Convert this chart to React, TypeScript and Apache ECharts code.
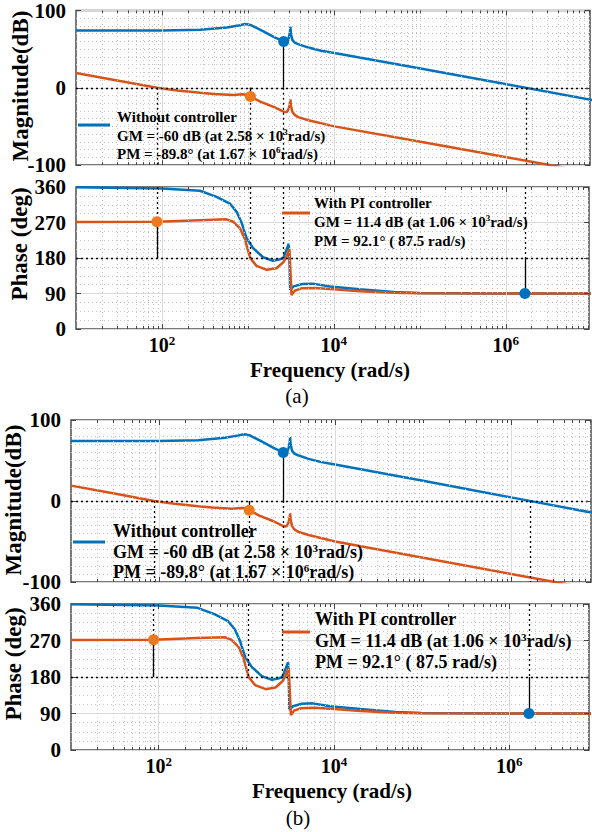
import React, { useEffect, useRef } from "react";
import * as echarts from "echarts";

const FONT = '"Liberation Serif", "Times New Roman", Times, serif';
const BLUE = "#0072BD";
const ORANGE = "#D95319";
const ORANGE_DOT = "#EC7A1C";

// ---------- data ----------
const freqMagBlue = [10, 100, 277, 565, 800, 920, 1000, 1100, 1500, 2000, 2580, 2800, 2950, 3050, 3090, 3130, 3250, 3450, 3800, 5000, 7000, 1e4, 1e5, 1e6, 1e7];
const magBlue = [74, 74, 75, 78, 81, 82.5, 82, 80.5, 73, 65.5, 60, 60.5, 64, 72, 79, 70, 62, 58.5, 56.5, 52, 48, 45, 25, 4.5, -16];

const freqMagOrange = [10, 30, 87.5, 150, 277, 400, 673, 850, 950, 1060, 1380, 2000, 2580, 2800, 2950, 3050, 3090, 3130, 3250, 3450, 3800, 5000, 1e4, 1e5, 1e6, 1e7];
const magOrange = [19, 9.5, 0, -3.5, -6.5, -8, -9.5, -8.5, -9, -11.4, -18, -25, -31, -31.5, -27, -21, -15, -23, -31, -35, -38, -42, -50, -70, -90, -110];

const freqPhBlue = [10, 100, 277, 432, 617, 740, 850, 967, 1150, 1500, 1960, 2300, 2580, 2800, 2990, 3060, 3100, 3400, 4300, 5700, 9000, 2e4, 5e4, 1e5, 1e6, 1e7];
const phBlue = [359.5, 356.5, 350.5, 335, 318, 297, 268, 230, 205, 182, 173, 176, 180, 200, 216, 160, 99, 108, 114, 115, 108, 101, 94, 91.5, 90.2, 90];

const freqPhOrange = [10, 87.5, 277, 565, 672, 810, 923, 1060, 1260, 1660, 2150, 2600, 2800, 2950, 3040, 3120, 3220, 3500, 4200, 6000, 1e4, 2e4, 5e4, 1e5, 1e6, 1e7];
const phOrange = [271.5, 272.1, 276, 278, 272, 255, 228, 180, 160, 150, 154, 170, 183, 196, 202, 150, 86, 97, 103, 104, 101, 96, 92, 90.8, 90, 90];

// margins
const gmBlue = { f: 2580, mag: 60 };
const gmOrange = { f: 1060, mag: -11.4 };
const pmBlue = { f: 1.67e6, ph: 90.2 };
const pmOrange = { f: 87.5, ph: 272.1 };

const magRange = [-100, 100];
const magInterval = 100;
const phRange = [0, 360];
const phInterval = 90;
const xLabelExps = [2, 4, 6];

const legendBlue = [
  "Without controller",
  "GM = -60 dB (at 2.58 × 10{s|3}rad/s)",
  "PM = -89.8° (at 1.67 × 10{s|6}rad/s)",
];
const legendOrange = [
  "With PI controller",
  "GM = 11.4 dB (at 1.06 × 10{s|3}rad/s)",
  "PM = 92.1° ( 87.5 rad/s)",
];

// ---------- layout ----------
const PANELS = [
  {
    left: 76, width: 514, xMax: 9.3e6,
    magTop: 5, magH: 160, phTop: 187, phH: 142,
    legFont: 15,
    legA: { lx1: 78, lx2: 110, ly: 125, tx: 117, ty: [117, 136, 154] },
    legB: { lx1: 282, lx2: 310, ly: 213, tx: 314, ty: [203, 222, 241] },
    magTitle: { x: 20, y: 86 }, phTitle: { x: 19, y: 244 },
    freqTitle: { x: 330, y: 370 }, tag: { x: 297, y: 396, text: "(a)" },
  },
  {
    left: 71, width: 520, xMax: 8.1e6,
    magTop: 420, magH: 162, phTop: 604, phH: 146,
    legFont: 18,
    legA: { lx1: 73, lx2: 105, ly: 542, tx: 113, ty: [531, 552, 572] },
    legB: { lx1: 282, lx2: 310, ly: 632, tx: 315, ty: [619, 641, 662] },
    magTitle: { x: 13, y: 500 }, phTitle: { x: 13, y: 664 },
    freqTitle: { x: 332, y: 791 }, tag: { x: 298, y: 818, text: "(b)" },
  },
];

const dottedBlack = { color: "#000", type: [2, 3] as any, width: 1.3 };
const solidBlack = { color: "#000", type: "solid", width: 1.3 };

function seg(x1: number, y1: number, x2: number, y2: number, style: any) {
  return [{ coord: [x1, y1], lineStyle: style }, { coord: [x2, y2] }];
}

function buildOption() {
  const grids: any[] = [];
  const xAxes: any[] = [];
  const yAxes: any[] = [];
  const series: any[] = [];
  const graphics: any[] = [];

  PANELS.forEach((P) => {
    const decades = Math.log10(P.xMax / 10);
    const pxPerDec = P.width / decades;
    const majors = [1e2, 1e4, 1e6];
    const minors: number[] = [];
    for (let k = 1; k <= 7; k++) {
      for (let m = 1; m <= 9; m++) {
        const f = m * Math.pow(10, k);
        if (f <= 10 || f >= P.xMax) continue;
        if (majors.some((M) => Math.abs(M - f) / M < 1e-9)) continue;
        minors.push(f);
      }
    }

    const subs = [
      { kind: "mag", top: P.magTop, h: P.magH, range: magRange, interval: magInterval, minorSplit: 10 },
      { kind: "ph", top: P.phTop, h: P.phH, range: phRange, interval: phInterval, minorSplit: 4 },
    ];

    subs.forEach((S) => {
      const gi = grids.length;
      const [yMin, yMax] = S.range;
      const yPerPx = (yMax - yMin) / S.h;
      const isMag = S.kind === "mag";

      grids.push({
        left: P.left, top: S.top, width: P.width, height: S.h,
        show: true, borderColor: "#4d4d4d", borderWidth: 1.5, backgroundColor: "rgba(0,0,0,0)",
      });

      xAxes.push({
        type: "log", logBase: 10, gridIndex: gi, min: 10, max: P.xMax,
        axisLine: { show: false }, axisTick: { show: false },
        splitLine: { show: false }, minorSplitLine: { show: false },
        axisLabel: {
          show: !isMag,
          margin: 7,
          fontSize: 20, fontWeight: "bold", fontFamily: FONT, color: "#000",
          formatter: (v: number) => {
            const e = Math.round(Math.log10(v));
            if (Math.abs(Math.log10(v) - e) > 1e-6) return "";
            return xLabelExps.includes(e) ? `{b|10}{s|${e}}` : "";
          },
          rich: {
            b: { fontSize: 20, fontWeight: "bold", fontFamily: FONT, color: "#000", lineHeight: 17 },
            s: { fontSize: 13, fontWeight: "bold", fontFamily: FONT, color: "#000", lineHeight: 9, padding: [0, 0, 8, 0] },
          },
        },
      });

      yAxes.push({
        type: "value", gridIndex: gi, min: yMin, max: yMax, interval: S.interval,
        axisLine: { show: false },
        axisTick: { show: true, inside: true, length: 5, lineStyle: { color: "#444", width: 1 } },
        axisLabel: { fontSize: 21, fontWeight: "bold", fontFamily: FONT, color: "#000", margin: 10 },
        splitLine: { show: true, lineStyle: { color: "#dadada", width: 1 } },
        minorTick: { show: false, splitNumber: S.minorSplit },
        minorSplitLine: { show: true, lineStyle: { color: "#c4c4c4", width: 1, type: [1, 3] } },
      });

      // background grid (vertical major/minor)
      const bg: any[] = [];
      majors.forEach((f) => bg.push({ xAxis: f, lineStyle: { color: "#dadada", type: "solid", width: 1 } }));
      minors.forEach((f) => bg.push({ xAxis: f, lineStyle: { color: "#c4c4c4", type: [1, 3], width: 1 } }));
      series.push({
        type: "line", xAxisIndex: gi, yAxisIndex: gi, data: [], z: 1, silent: true,
        markLine: { silent: true, symbol: ["none", "none"], label: { show: false }, animation: false, data: bg },
      });

      // curves
      const blueX = isMag ? freqMagBlue : freqPhBlue;
      const blueY = isMag ? magBlue : phBlue;
      const orX = isMag ? freqMagOrange : freqPhOrange;
      const orY = isMag ? magOrange : phOrange;
      series.push({
        type: "line", xAxisIndex: gi, yAxisIndex: gi, z: 3, showSymbol: false, silent: true,
        data: blueX.map((f, i) => [f, blueY[i]]),
        lineStyle: { color: BLUE, width: 2.5 }, itemStyle: { color: BLUE },
      });
      series.push({
        type: "line", xAxisIndex: gi, yAxisIndex: gi, z: 3, showSymbol: false, silent: true,
        data: orX.map((f, i) => [f, orY[i]]),
        lineStyle: { color: ORANGE, width: 2.5 }, itemStyle: { color: ORANGE },
      });

      // overlay: margin lines + ticks
      const ov: any[] = [];
      const allF = [pmOrange.f, gmOrange.f, gmBlue.f, pmBlue.f];
      if (isMag) {
        ov.push({ yAxis: 0, lineStyle: dottedBlack });
        allF.forEach((f) => ov.push(seg(f, 0, f, yMin, dottedBlack)));
        ov.push(seg(gmBlue.f, 0, gmBlue.f, gmBlue.mag, solidBlack));
        ov.push(seg(gmOrange.f, 0, gmOrange.f, gmOrange.mag, solidBlack));
      } else {
        ov.push({ yAxis: 180, lineStyle: dottedBlack });
        allF.forEach((f) => ov.push(seg(f, yMax, f, 180, dottedBlack)));
        ov.push(seg(pmOrange.f, 180, pmOrange.f, pmOrange.ph, solidBlack));
        ov.push(seg(pmBlue.f, 180, pmBlue.f, pmBlue.ph, solidBlack));
      }
      const tickStyle = { color: "#444", type: "solid", width: 1 };
      const tickAt = (f: number, len: number) => {
        ov.push(seg(f, yMax, f, yMax - len * yPerPx, tickStyle));
        ov.push(seg(f, yMin, f, yMin + len * yPerPx, tickStyle));
      };
      majors.forEach((f) => tickAt(f, 5));
      minors.forEach((f) => tickAt(f, 3));
      const fac = Math.pow(10, 5 / pxPerDec);
      for (let v = yMin; v <= yMax + 1e-9; v += S.interval) {
        ov.push(seg(P.xMax / fac, v, P.xMax, v, tickStyle));
      }
      series.push({
        type: "line", xAxisIndex: gi, yAxisIndex: gi, data: [], z: 4, silent: true,
        markLine: { silent: true, symbol: ["none", "none"], label: { show: false }, animation: false, data: ov },
      });

      // markers
      const bluePt = isMag ? [gmBlue.f, gmBlue.mag] : [pmBlue.f, pmBlue.ph];
      const orPt = isMag ? [gmOrange.f, gmOrange.mag] : [pmOrange.f, pmOrange.ph];
      series.push({
        type: "scatter", xAxisIndex: gi, yAxisIndex: gi, z: 5, silent: true,
        symbolSize: 11, data: [bluePt], itemStyle: { color: BLUE, opacity: 1 },
      });
      series.push({
        type: "scatter", xAxisIndex: gi, yAxisIndex: gi, z: 5, silent: true,
        symbolSize: 11, data: [orPt], itemStyle: { color: ORANGE_DOT, opacity: 1 },
      });
    });

    // legends
    const supSize = Math.round(P.legFont * 0.62);
    const richSup = {
      s: { fontSize: supSize, fontWeight: "bold", fontFamily: FONT, fill: "#000", padding: [0, 0, Math.round(P.legFont * 0.5), 0] },
    };
    const addLegend = (L: any, color: string, lines: string[]) => {
      graphics.push({
        type: "line", silent: true, z: 10,
        shape: { x1: L.lx1, y1: L.ly, x2: L.lx2, y2: L.ly },
        style: { stroke: color, lineWidth: 3 },
      });
      lines.forEach((t, i) => {
        graphics.push({
          type: "text", silent: true, z: 10, x: L.tx, y: L.ty[i],
          style: {
            text: t, fill: "#000", fontSize: P.legFont, fontWeight: "bold", fontFamily: FONT,
            textAlign: "left", textVerticalAlign: "middle", rich: richSup,
          },
        });
      });
    };
    addLegend(P.legA, BLUE, legendBlue);
    addLegend(P.legB, ORANGE, legendOrange);

    // titles
    graphics.push({
      type: "text", silent: true, x: P.magTitle.x, y: P.magTitle.y, rotation: Math.PI / 2,
      style: { text: "Magnitude(dB)", fill: "#000", fontSize: 23, fontWeight: "bold", fontFamily: FONT, textAlign: "center", textVerticalAlign: "middle" },
    });
    graphics.push({
      type: "text", silent: true, x: P.phTitle.x, y: P.phTitle.y, rotation: Math.PI / 2,
      style: { text: "Phase (deg)", fill: "#000", fontSize: 23, fontWeight: "bold", fontFamily: FONT, textAlign: "center", textVerticalAlign: "middle" },
    });
    graphics.push({
      type: "text", silent: true, x: P.freqTitle.x, y: P.freqTitle.y,
      style: { text: "Frequency (rad/s)", fill: "#000", fontSize: 21, fontWeight: "bold", fontFamily: FONT, textAlign: "center", textVerticalAlign: "middle" },
    });
    graphics.push({
      type: "text", silent: true, x: P.tag.x, y: P.tag.y,
      style: { text: P.tag.text, fill: "#000", fontSize: 21, fontWeight: "normal", fontFamily: FONT, textAlign: "center", textVerticalAlign: "middle" },
    });
  });

  return {
    animation: false,
    backgroundColor: "#fff",
    grid: grids,
    xAxis: xAxes,
    yAxis: yAxes,
    series,
    graphic: graphics,
  };
}

export default function App() {
  const ref = useRef<HTMLDivElement>(null);
  useEffect(() => {
    document.body.style.margin = "0";
    const chart = echarts.init(ref.current!, null, { renderer: "svg" });
    chart.setOption(buildOption() as any);
    return () => chart.dispose();
  }, []);
  return (
    <div
      ref={ref}
      style={{ width: 592, height: 832, position: "absolute", left: 0, top: 0, background: "#fff" }}
    />
  );
}
